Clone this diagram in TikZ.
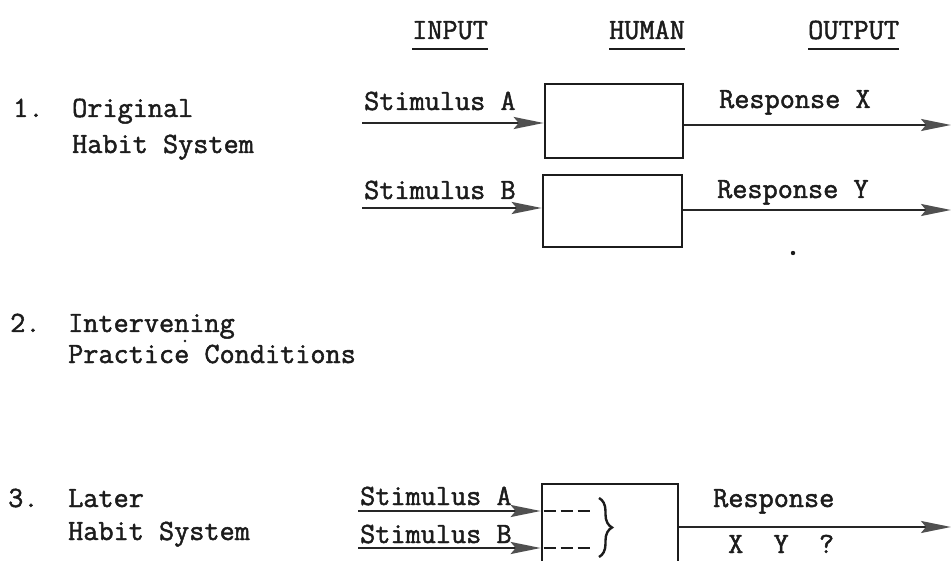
\documentclass[tikz,border=0pt]{standalone}
\usepackage{fontspec}
\newfontfamily\tw[FakeBold=1.6]{Latin Modern Mono}
\usetikzlibrary{arrows.meta,decorations.pathreplacing}
\definecolor{ink}{HTML}{1C1C1C}
\definecolor{linec}{HTML}{262626}
\definecolor{headc}{HTML}{505050}
\begin{document}
\begin{tikzpicture}[x=1pt,y=-1pt,
  txt/.style={font=\tw\fontsize{29.4}{32}\selectfont, anchor=base west, inner sep=0pt, text=ink},
  hbox/.style={draw=ink, line width=2.6pt, inner sep=0pt},
  arr/.style={draw=linec, line width=2.4pt, -{Stealth[length=30pt,width=12pt,inset=5pt,color=headc]}},
  uline/.style={draw=ink, line width=2.2pt},
  dashln/.style={draw=ink, line width=2.4pt, dash pattern=on 12pt off 5pt},
  bracec/.style={draw=ink, line width=2.4pt, decorate, decoration={brace, amplitude=13pt}}]
\useasboundingbox (0,0) rectangle (951,561);
\clip (0,0) rectangle (951,561);

% headings
\node[txt] (inp) at (412,39) {INPUT};
\node[txt] (hum) at (609,39) {HUMAN};
\node[txt] (outp) at (808,39) {OUTPUT};
\foreach \n in {inp,hum,outp}
  \draw[uline] ([yshift=-10pt]\n.base west) -- ([yshift=-10pt]\n.base east);

% left labels
\node[txt] (n1) at (13,117) {1.};
\node[txt] (t1a) at (72,117) {Original};
\node[txt] (t1b) at (72,153) {Habit System};
\node[txt] (n2) at (10,332) {2.};
\node[txt] (t2a) at (68,332) {Intervening};
\node[txt] (t2b) at (68,363) {Practice Conditions};
\node[txt] (n3) at (8,507) {3.};
\node[txt] (t3a) at (68,507) {Later};
\node[txt] (t3b) at (68,540) {Habit System};

% row 1
\node[hbox, minimum width=138pt, minimum height=74pt] (box1) at (614,121) {};
\node[hbox, minimum width=139pt, minimum height=72pt] (box2) at (612.5,211) {};
\node[txt] (sa1) at (364,110) {Stimulus A};
\node[txt] (sb1) at (364,199) {Stimulus B};
\node[txt] (rx) at (719,108) {Response X};
\node[txt] (ry) at (717,198) {Response Y};
\coordinate (a1s) at (362,123);
\coordinate (b1s) at (362,208);
\coordinate (x1e) at (951,125);
\coordinate (y1e) at (951,210);
\draw[arr] (a1s) -- (a1s -| box1.west);
\draw[arr] (b1s) -- (b1s -| box2.west);
\draw[arr] (box1.east |- x1e) -- (x1e);
\draw[arr] (box2.east |- y1e) -- (y1e);
\fill[ink] (793,253) circle (2.2pt);
\fill[ink] (185,341) circle (1.3pt);

% row 3
\node[hbox, minimum width=136pt, minimum height=160pt] (box3) at (610,564) {};
\node[txt] (sa3) at (360,505) {Stimulus A};
\node[txt] (sb3) at (360,543) {Stimulus B};
\node[txt] (r3) at (713,507) {Response};
\node[txt] (r3b) at (728,553) {X\ \ Y\ \ ?};
\coordinate (a3s) at (358,511);
\coordinate (b3s) at (358,548);
\coordinate (r3e) at (951,527);
\draw[arr] (a3s) -- (a3s -| box3.west);
\draw[arr] (b3s) -- (b3s -| box3.west);
\draw[dashln] ([xshift=3pt]a3s -| box3.west) -- ++(48,0);
\draw[dashln] ([xshift=3pt]b3s -| box3.west) -- ++(48,0);
\coordinate (brT) at (599,498);
\coordinate (brB) at (599,557);
\draw[bracec] (brT) -- (brB);
\draw[arr] (box3.east |- r3e) -- (r3e);
\end{tikzpicture}
\end{document}
